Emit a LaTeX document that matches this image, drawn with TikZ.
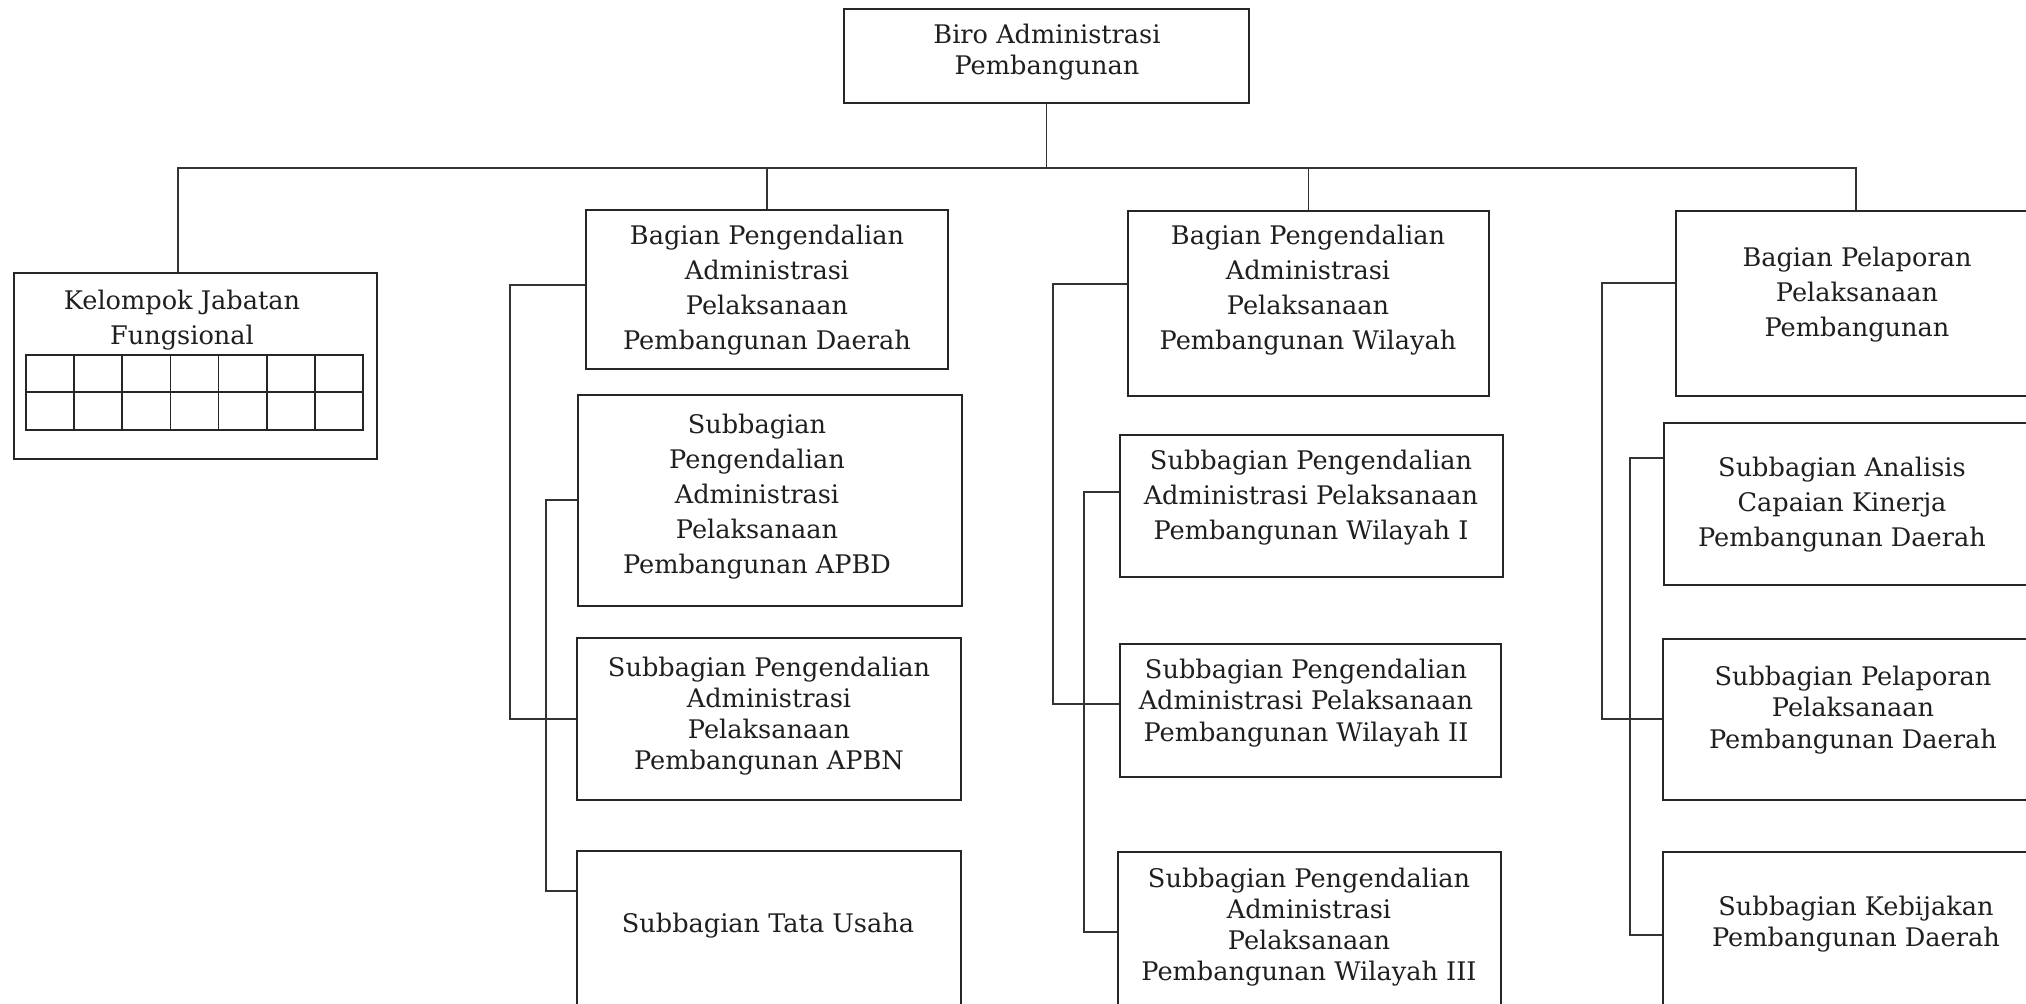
\documentclass[tikz,border=0pt]{standalone}
\usepackage{fontspec}
\setmainfont{DejaVu Serif}
\usetikzlibrary{fit}

\begin{document}
\begin{tikzpicture}[x=0.5pt,y=-0.5pt,
  box/.style={draw=black!85, line width=1.1pt, inner sep=0pt},
  link/.style={draw=black!80, line width=0.6pt},
  cell/.style={draw=black!85, line width=0.8pt},
  lbl/.style={align=center, text=black!88, inner sep=0pt, font=\fontsize{12.8}{17.5}\selectfont},
  lbltight/.style={lbl, font=\fontsize{12.8}{15.6}\selectfont}]
\clip (0,0) rectangle (2026,1004);
\useasboundingbox (0,0) rectangle (2026,1004);

% ---- boxes ----
\node[box, fit={(844,9) (1249,103)}] (biro) {};
\node[lbltight] (tbiro) at (1047,52) {Biro Administrasi\\Pembangunan};

\node[box, fit={(14,273) (377,459)}] (kel) {};
\node[lbl] (tkel) at (182,320) {Kelompok Jabatan\\Fungsional};

\node[box, fit={(586,210) (948,369)}] (bag1) {};
\node[lbl] (tbag1) at (767,290) {Bagian Pengendalian\\Administrasi\\Pelaksanaan\\Pembangunan Daerah};

\node[box, fit={(1128,211) (1489,396)}] (bag2) {};
\node[lbl] (tbag2) at (1308,290) {Bagian Pengendalian\\Administrasi\\Pelaksanaan\\Pembangunan Wilayah};

\node[box, fit={(1676,211) (2036,396)}] (bag3) {};
\node[lbl] (tbag3) at (1857,295) {Bagian Pelaporan\\Pelaksanaan\\Pembangunan};

\node[box, fit={(578,395) (962,606)}] (apbd) {};
\node[lbl] (tapbd) at (757,497) {Subbagian\\Pengendalian\\Administrasi\\Pelaksanaan\\Pembangunan APBD};

\node[box, fit={(577,638) (961,800)}] (apbn) {};
\node[lbltight] (tapbn) at (769,716) {Subbagian Pengendalian\\Administrasi\\Pelaksanaan\\Pembangunan APBN};

\node[box, fit={(577,851) (961,1040)}] (tata) {};
\node[lbl] (ttata) at (768,926) {Subbagian Tata Usaha};

\node[box, fit={(1120,435) (1503,577)}] (wil1) {};
\node[lbl] (twil1) at (1311,498) {Subbagian Pengendalian\\Administrasi Pelaksanaan\\Pembangunan Wilayah I};

\node[box, fit={(1120,644) (1501,777)}] (wil2) {};
\node[lbltight] (twil2) at (1306,703) {Subbagian Pengendalian\\Administrasi Pelaksanaan\\Pembangunan Wilayah II};

\node[box, fit={(1118,852) (1501,1040)}] (wil3) {};
\node[lbltight] (twil3) at (1309,927) {Subbagian Pengendalian\\Administrasi\\Pelaksanaan\\Pembangunan Wilayah III};

\node[box, fit={(1664,423) (2040,585)}] (ana) {};
\node[lbl] (tana) at (1842,505) {Subbagian Analisis\\Capaian Kinerja\\Pembangunan Daerah};

\node[box, fit={(1663,639) (2040,800)}] (pel) {};
\node[lbltight] (tpel) at (1853,710) {Subbagian Pelaporan\\Pelaksanaan\\Pembangunan Daerah};

\node[box, fit={(1663,852) (2040,1040)}] (keb) {};
\node[lbltight] (tkeb) at (1856,924) {Subbagian Kebijakan\\Pembangunan Daerah};

% ---- table of functional positions ----
\draw[cell] (26,355) rectangle (363,430);
\draw[cell] (26,392) -- (363,392);
\foreach \i in {1,...,6} \draw[cell] (26+\i*48.143,355) -- (26+\i*48.143,430);

% ---- connectors ----
\coordinate (busL) at (178,168);
\coordinate (busR) at (1856,168);
\draw[link] (biro.south) -- (biro.south |- busL);
\draw[link] (kel.north -| busL) -- (busL) -- (busR) -- (bag3.north -| busR);
\draw[link] (bag1.north) -- (bag1.north |- busL);
\draw[link] (bag2.north) -- (bag2.north |- busL);

\draw[link] (bag1.west |- 0,285) -| (510,719) -- (apbn.west |- 0,719);
\draw[link] (apbd.west |- 0,500) -| (546,891) -- (tata.west |- 0,891);

\draw[link] (bag2.west |- 0,284) -| (1053,704) -- (wil2.west |- 0,704);
\draw[link] (wil1.west |- 0,492) -| (1084,932) -- (wil3.west |- 0,932);

\draw[link] (bag3.west |- 0,283) -| (1602,719) -- (pel.west |- 0,719);
\draw[link] (ana.west |- 0,458) -| (1630,935) -- (keb.west |- 0,935);
\end{tikzpicture}
\end{document}
